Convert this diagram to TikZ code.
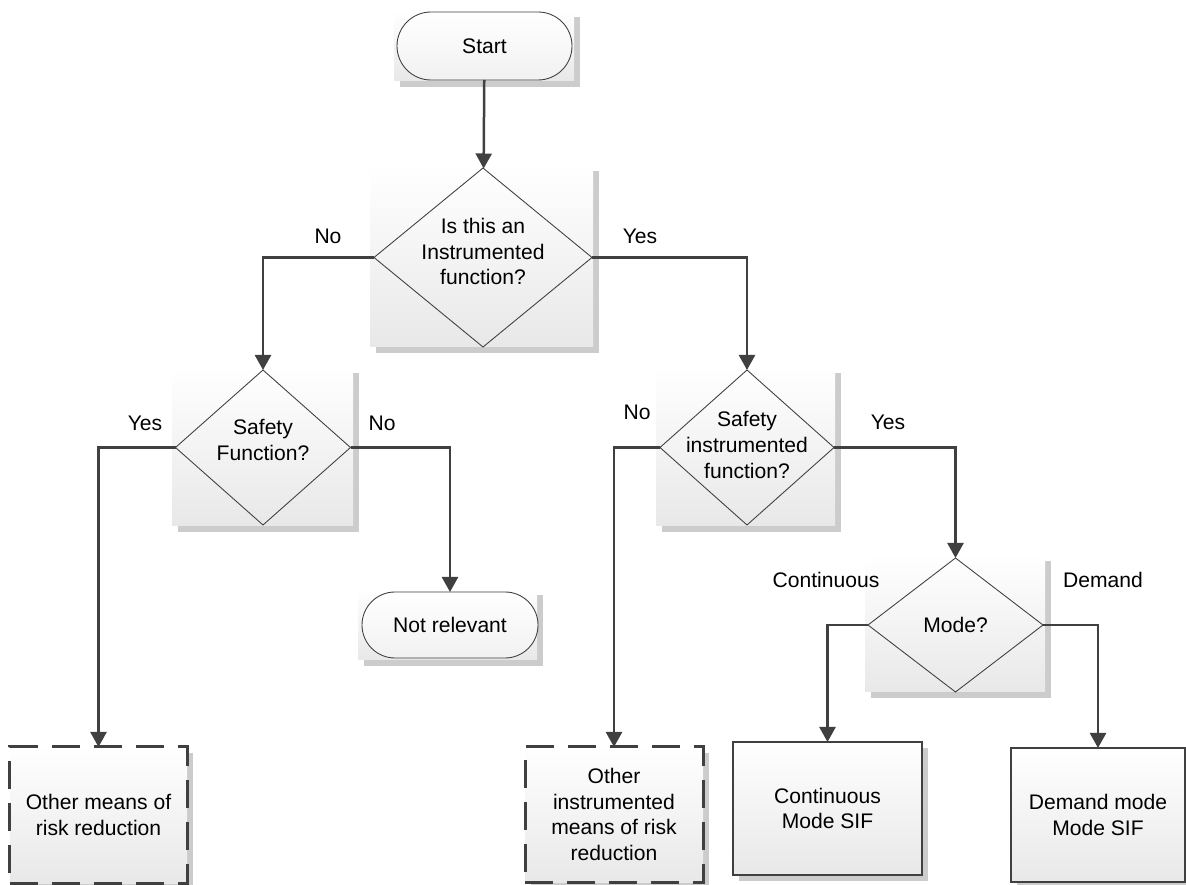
\documentclass[tikz,border=0pt]{standalone}
\usepackage{fontspec}
\setmainfont{Liberation Sans}
\usetikzlibrary{shapes.geometric,shapes.misc,arrows.meta,shadows}
\definecolor{wire}{HTML}{404040}
\definecolor{panelgray}{HTML}{E8E8E8}
\tikzset{
	panel/.style={rectangle,inner sep=0pt,outer sep=0pt,top color=white,bottom color=panelgray,
		drop shadow={shadow xshift=1.2mm,shadow yshift=-1.2mm,fill=black!20,opacity=1}},
	decision/.style={diamond,draw=black!75,line width=0.5pt,inner sep=0pt,outer sep=0pt},
	terminal/.style={rounded rectangle,draw=black!75,line width=0.5pt,top color=white,
		bottom color=panelgray!60,inner sep=0pt,outer sep=0pt},
	sifbox/.style={panel,draw=black!75,line width=0.6pt,align=center},
	meansbox/.style={panel,draw=wire,line width=0.6mm,dash pattern=on 5.6mm off 2.8mm,align=center},
	flow/.style={draw=wire,line width=0.5mm,-{Triangle[width=3.2mm,length=3mm]}},
}
\begin{document}
\begin{tikzpicture}[x=0.2mm,y=-0.2mm,font=\fontsize{12}{14.7}\selectfont]
	\useasboundingbox (0,0) rectangle (1186,885);
	% shaded panels behind the shapes
	\foreach \n/\px/\py/\w/\h in {start/484/46/180/70,d1/481.5/256/223/182,d2/262.5/446.5/181/159,
		d3/745.5/446.5/179/159,notrel/447.5/624.5/179/71,mode/955/623.5/180/137}{
		\node[panel,minimum width=\w*0.2mm,minimum height=\h*0.2mm] (\n-bg) at (\px,\py) {};
	}
	\node[terminal,minimum width=35mm,minimum height=13.6mm] (start) at (484.5,46) {Start};
	\node[decision,minimum width=43.6mm,minimum height=35.8mm,
		label={[align=center,yshift=1.2mm]center:Is this an\\Instrumented\\function?}] (d1) at (483,257.5) {};
	\node[decision,minimum width=35mm,minimum height=31mm,
		label={[align=center,yshift=1.5mm]center:Safety\\Function?}] (d2) at (263,447.5) {};
	\node[decision,minimum width=34.8mm,minimum height=31mm,
		label={[align=center,yshift=0.5mm]center:Safety\\instrumented\\function?}] (d3) at (747,447.5) {};
	\node[decision,minimum width=35mm,minimum height=26.8mm,
		label={center:Mode?}] (mode) at (955.5,625) {};
	\node[terminal,minimum width=35.2mm,minimum height=13.2mm] (notrel) at (450,625) {Not relevant};
	\node[meansbox,minimum width=35.4mm,minimum height=27.2mm] (other1) at (98.5,815) {Other means of\\risk reduction};
	\node[meansbox,minimum width=35.6mm,minimum height=27mm] (other2) at (614,814.5) {Other\\instrumented\\means of risk\\reduction};
	\node[sifbox,minimum width=37.8mm,minimum height=26.6mm] (cont) at (827.5,808.5) {Continuous\\Mode SIF};
	\node[sifbox,minimum width=34.8mm,minimum height=26.8mm] (demand) at (1098,815) {Demand mode\\Mode SIF};

	\draw[flow] (start) -- (d1);
	\draw[flow] (d1.west) -| (d2.north);
	\draw[flow] (d1.east) -| (d3.north);
	\draw[flow] (d2.west) -| (other1.north);
	\draw[flow] (d2.east) -| (notrel.north);
	\draw[flow] (d3.west) -| (other2.north);
	\draw[flow] (d3.east) -| (mode.north);
	\draw[flow] (mode.west) -| (cont.north);
	\draw[flow] (mode.east) -| (demand.north);

	% branch labels
	\node (no1) at (328,236) {No};
	\node (yes1) at (640,236) {Yes};
	\node (yes2) at (145,423) {Yes};
	\node (no2) at (382,423) {No};
	\node (no3) at (637,412) {No};
	\node (yes3) at (888,422) {Yes};
	\node (lcont) at (826,580) {Continuous};
	\node (ldem) at (1103,580) {Demand};
\end{tikzpicture}
\end{document}
